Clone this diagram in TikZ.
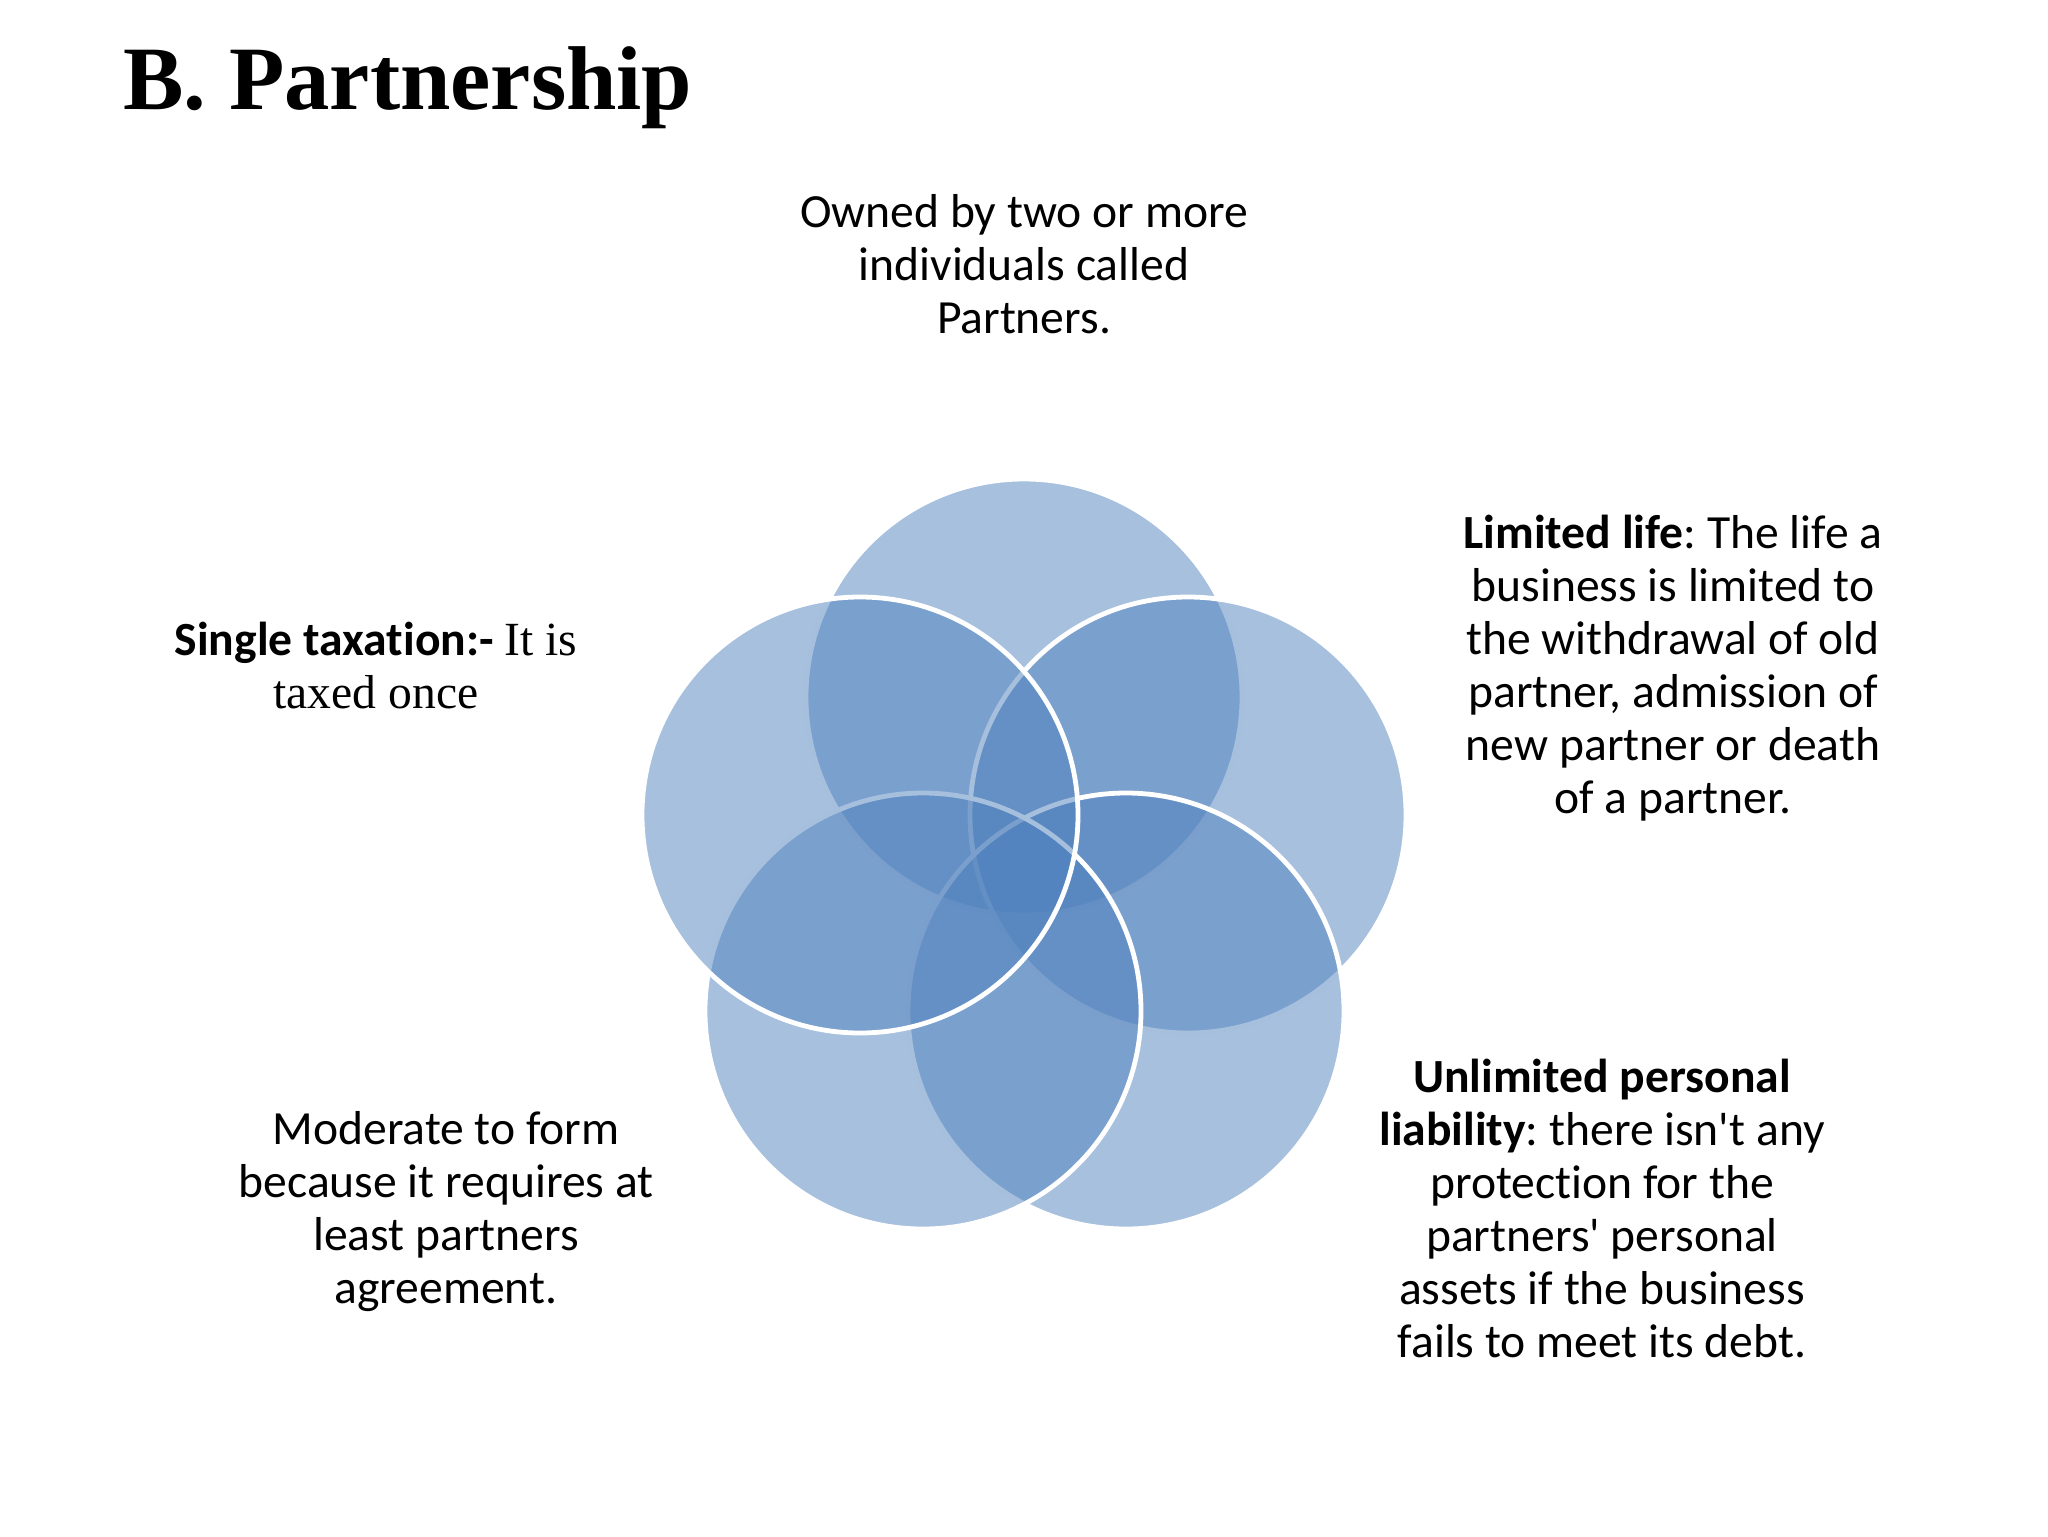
\documentclass[tikz,border=0pt]{standalone}
\usepackage{fontspec}
\setmainfont{Carlito}[Ligatures={NoCommon}]
\newfontfamily\tnr{Liberation Serif}
\definecolor{acc}{RGB}{79,129,189}
\begin{document}
\frenchspacing
\begin{tikzpicture}[x=0.5pt,y=-0.5pt]
\useasboundingbox (0,0) rectangle (2048,1536);
\tikzset{
  venn/.style={circle, minimum size=218pt, inner sep=0pt, fill=acc, fill opacity=0.5, draw=white, draw opacity=1, line width=2.4pt},
  body/.style={font=\frenchspacing\fontsize{23.8}{26.5}\selectfont, align=center, inner sep=0pt, anchor=base}
}
\node[venn] (top) at (1024,697) {};
\node[venn] (right) at (1188,815) {};
\node[venn] (bright) at (1126,1011) {};
\node[venn] (bleft) at (923,1011) {};
\node[venn] (left) at (860,815) {};

\node[anchor=base west, inner sep=0pt] (title) at (123,110) {\tnr\bfseries\fontsize{45.3}{50}\selectfont B. Partnership};

\node[body] (t1) at (1024,333) {Owned by two or more\\individuals called\\Partners.};
\node[body] (t2) at (1673,813) {\textbf{Limited life}: The life a\\business is limited to\\the withdrawal of old\\partner, admission of\\new partner or death\\of a partner.};
\node[body] (t3) at (1602,1357) {\textbf{Unlimited personal}\\\textbf{liability}: there isn\textquotesingle t any\\protection for the\\partners\textquotesingle{} personal\\assets if the business\\fails to meet its debt.};
\node[body] (t4) at (446,1303) {Moderate to form\\because it requires at\\least partners\\agreement.};
\node[body] (t5) at (376,708) {\textbf{Single taxation:-} {\tnr It is}\\{\tnr taxed once}};
\end{tikzpicture}
\end{document}
